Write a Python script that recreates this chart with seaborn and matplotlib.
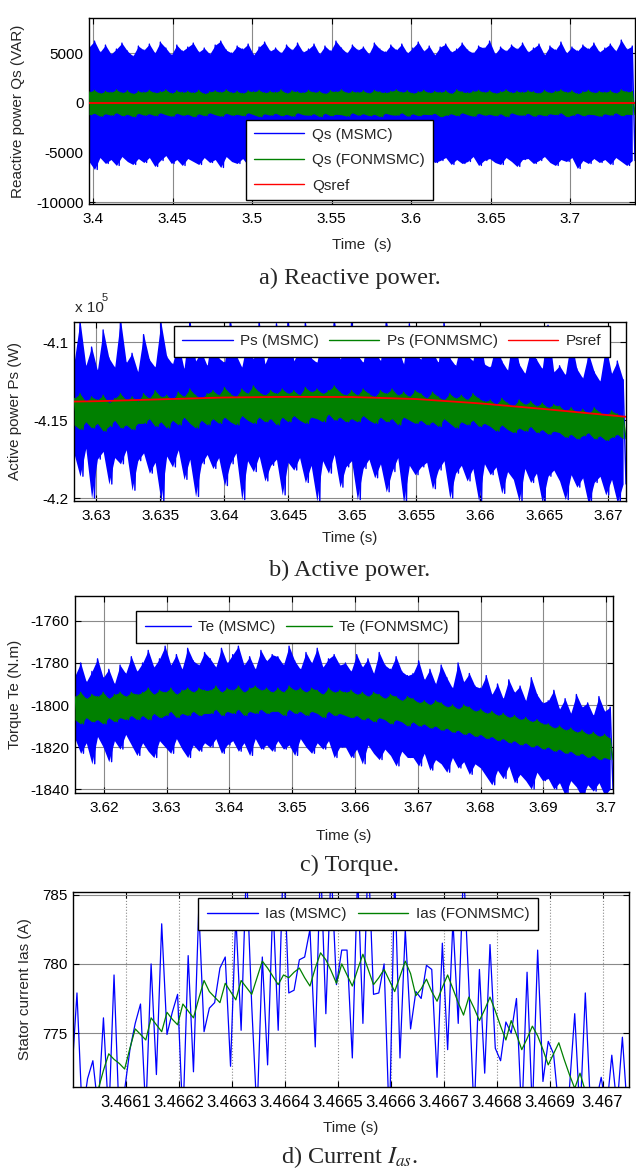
import numpy as np
import matplotlib
matplotlib.use("Agg")
import matplotlib.pyplot as plt
from matplotlib.ticker import FuncFormatter
import seaborn as sns

# ---------------- data ----------------
# a) Reactive power: peak / trough values of the chattering signals (VAR)
a_t_range = [3.3975, 3.7406]
qs_msmc_hi = [5600, 6200, 5100, 5800, 4900, 5400, 6000, 5200, 4700, 5700,
              5300, 5900, 5000, 6100, 5500, 4800, 5800, 5200, 5600, 6000,
              5100, 5500, 4900, 5800, 6200, 5300, 5000, 5700, 5400, 5900,
              4800, 5600, 6100, 5200, 5500, 5000, 5800, 5300, 6000, 5100,
              5400, 5900, 4900, 5700, 5200, 6200, 5500, 5000, 5800, 5300,
              5600, 4900, 6000, 5400, 5100, 5800, 5300, 5900, 5000, 5500,
              6100, 5200, 5700, 4800, 5600, 5900, 5100, 5400, 6000, 5300,
              5000, 5700, 5500, 6200, 4900, 5600, 5200, 5800, 5400, 6000,
              5100, 5500, 5900, 4800, 5700, 5300, 6100, 5000, 5600, 5200,
              5800, 5400, 6000, 5100, 5500, 5900, 5200, 6300, 5400, 5700]
qs_msmc_lo = [-5900, -6700, -5500, -6100, -5700, -6300, -5400, -5900, -6200, -5600,
              -6000, -5500, -6400, -5800, -5300, -6100, -5700, -6300, -5600, -5900,
              -6200, -5500, -6000, -5700, -6500, -5400, -5900, -6100, -5600, -6300,
              -5800, -5500, -6200, -5900, -5400, -6000, -6400, -5700, -5500, -6100,
              -5800, -6300, -5600, -5900, -5400, -6200, -5700, -6000, -5500, -6400,
              -5900, -5600, -6100, -5800, -6300, -5500, -6000, -5700, -6200, -5400,
              -5900, -6500, -5600, -6000, -5800, -5500, -6200, -5700, -6100, -5900,
              -5400, -6300, -5800, -5600, -6000, -6200, -5500, -5900, -6400, -5700,
              -5600, -6100, -5800, -5400, -6000, -6300, -5700, -5900, -5500, -6600,
              -5800, -6100, -5600, -6000, -5700, -6200, -5500, -5900, -6300, -5800]
qs_fon_hi = [1100, 1250, 950, 1150, 1050, 1300, 1000, 1200, 900, 1150,
             1050, 1250, 1000, 1100, 1300, 950, 1200, 1050, 1150, 1000,
             1250, 900, 1100, 1200, 1050, 1300, 1000, 1150, 950, 1200,
             1100, 1250, 1000, 1150, 1050, 1300, 950, 1200, 1100, 1000,
             1250, 1050, 1150, 900, 1200, 1100, 1300, 1000, 1150, 1050,
             1200, 950, 1250, 1100, 1000, 1150, 1300, 1050, 1200, 950,
             1100, 1250, 1000, 1150, 1050, 1200, 900, 1300, 1100, 1000,
             1150, 1250, 1050, 1200, 950, 1100, 1300, 1000, 1150, 1050,
             1200, 1100, 950, 1250, 1000, 1150, 1300, 1050, 1200, 900,
             1100, 1250, 1000, 1150, 1050, 1200, 950, 1300, 1100, 1150]
qs_fon_lo = [-1200, -1050, -1350, -1100, -1250, -1000, -1300, -1150, -1400, -1050,
             -1250, -1100, -1300, -1000, -1200, -1350, -1050, -1250, -1150, -1400,
             -1100, -1300, -1000, -1200, -1350, -1050, -1250, -1150, -1300, -1000,
             -1200, -1400, -1100, -1250, -1050, -1300, -1150, -1350, -1000, -1200,
             -1250, -1100, -1400, -1050, -1300, -1150, -1200, -1350, -1000, -1250,
             -1100, -1300, -1150, -1400, -1050, -1200, -1250, -1000, -1350, -1100,
             -1300, -1150, -1200, -1050, -1400, -1250, -1100, -1300, -1000, -1200,
             -1350, -1050, -1250, -1150, -1300, -1100, -1400, -1000, -1200, -1250,
             -1050, -1350, -1150, -1300, -1100, -1200, -1000, -1400, -1250, -1050,
             -1300, -1150, -1200, -1350, -1100, -1250, -1000, -1300, -1150, -1200]
qsref_t = [3.3975, 3.7406]
qsref = [0, 0]

# b) Active power (x 1e5 W)
b_t_range = [3.6283, 3.6714]
ps_msmc_hi = [-4.112, -4.086, -4.115, -4.103, -4.118, -4.092, -4.110, -4.116, -4.085, -4.113, -4.107, -4.119,
              -4.095, -4.111, -4.116, -4.087, -4.109, -4.114, -4.100, -4.117, -4.085, -4.112, -4.106, -4.115,
              -4.090, -4.110, -4.113, -4.085, -4.108, -4.116, -4.097, -4.111, -4.086, -4.114, -4.105, -4.088,
              -4.109, -4.085, -4.112, -4.104, -4.087, -4.110, -4.113, -4.094, -4.106, -4.085, -4.111, -4.102,
              -4.086, -4.108, -4.113, -4.090, -4.105, -4.112, -4.085, -4.109, -4.103, -4.114, -4.088, -4.107,
              -4.111, -4.096, -4.106, -4.113, -4.087, -4.110, -4.115, -4.099, -4.108, -4.112, -4.090, -4.114,
              -4.116, -4.101, -4.112, -4.118, -4.093, -4.114, -4.120, -4.105, -4.111, -4.117, -4.089, -4.119,
              -4.115, -4.121, -4.098, -4.117, -4.123, -4.107, -4.119, -4.125, -4.102, -4.120, -4.112, -4.124]
ps_msmc_lo = [-4.172, -4.186, -4.168, -4.200, -4.175, -4.170, -4.191, -4.174, -4.178, -4.169, -4.195, -4.176,
              -4.171, -4.184, -4.177, -4.202, -4.173, -4.180, -4.169, -4.188, -4.175, -4.199, -4.178, -4.172,
              -4.181, -4.174, -4.192, -4.178, -4.171, -4.201, -4.176, -4.183, -4.173, -4.189, -4.179, -4.175,
              -4.198, -4.177, -4.182, -4.174, -4.190, -4.179, -4.202, -4.176, -4.184, -4.172, -4.193, -4.180,
              -4.176, -4.201, -4.181, -4.175, -4.187, -4.178, -4.196, -4.183, -4.174, -4.203, -4.179, -4.185,
              -4.180, -4.177, -4.194, -4.182, -4.176, -4.200, -4.184, -4.179, -4.189, -4.181, -4.202, -4.178,
              -4.185, -4.180, -4.197, -4.183, -4.188, -4.202, -4.181, -4.190, -4.184, -4.203, -4.186, -4.182,
              -4.189, -4.201, -4.185, -4.193, -4.187, -4.204, -4.190, -4.186, -4.198, -4.188, -4.203, -4.191]
ps_fon_hi = [-4.136, -4.133, -4.138, -4.135, -4.137, -4.134, -4.139, -4.136, -4.133, -4.137, -4.135, -4.138,
             -4.133, -4.136, -4.131, -4.135, -4.134, -4.137, -4.132, -4.135, -4.130, -4.134, -4.136, -4.133,
             -4.131, -4.134, -4.129, -4.133, -4.135, -4.130, -4.133, -4.128, -4.132, -4.134, -4.131, -4.133,
             -4.130, -4.133, -4.131, -4.134, -4.129, -4.132, -4.130, -4.133, -4.131, -4.128, -4.132, -4.134,
             -4.131, -4.134, -4.130, -4.133, -4.135, -4.131, -4.133, -4.130, -4.134, -4.132, -4.135, -4.131,
             -4.133, -4.136, -4.132, -4.135, -4.137, -4.133, -4.136, -4.134, -4.137, -4.133, -4.136, -4.138,
             -4.137, -4.140, -4.136, -4.139, -4.141, -4.137, -4.140, -4.138, -4.141, -4.139, -4.142, -4.140,
             -4.141, -4.144, -4.142, -4.145, -4.143, -4.146, -4.142, -4.145, -4.147, -4.144, -4.146, -4.148]
ps_fon_lo = [-4.153, -4.156, -4.151, -4.155, -4.152, -4.157, -4.154, -4.150, -4.155, -4.153, -4.156, -4.152,
             -4.152, -4.149, -4.154, -4.151, -4.155, -4.150, -4.153, -4.148, -4.152, -4.155, -4.150, -4.153,
             -4.149, -4.152, -4.148, -4.151, -4.153, -4.147, -4.150, -4.152, -4.148, -4.151, -4.149, -4.153,
             -4.148, -4.151, -4.147, -4.150, -4.152, -4.148, -4.149, -4.151, -4.146, -4.150, -4.148, -4.151,
             -4.149, -4.151, -4.147, -4.150, -4.152, -4.148, -4.151, -4.149, -4.153, -4.148, -4.150, -4.152,
             -4.150, -4.153, -4.151, -4.154, -4.149, -4.152, -4.155, -4.151, -4.153, -4.150, -4.154, -4.152,
             -4.154, -4.157, -4.153, -4.156, -4.158, -4.155, -4.157, -4.154, -4.158, -4.156, -4.159, -4.157,
             -4.158, -4.161, -4.159, -4.162, -4.160, -4.158, -4.162, -4.160, -4.163, -4.161, -4.159, -4.162]
psref_t = [3.6283, 3.630, 3.635, 3.640, 3.645, 3.650, 3.655, 3.660, 3.665, 3.6714]
psref = [-4.1380, -4.1378, -4.1366, -4.1354, -4.1350, -4.1351, -4.1364, -4.1392, -4.1428, -4.1478]

# c) Torque (N.m)
c_t_range = [3.6154, 3.7011]
te_msmc_hi = [-1786, -1780, -1789, -1784, -1778, -1787, -1783, -1790, -1781, -1785, -1777, -1784,
              -1780, -1774, -1782, -1778, -1772, -1781, -1776, -1783, -1773, -1779, -1781, -1775,
              -1778, -1782, -1773, -1780, -1776, -1772, -1781, -1777, -1783, -1774, -1779, -1776,
              -1777, -1781, -1772, -1779, -1783, -1775, -1780, -1773, -1782, -1778, -1776, -1781,
              -1780, -1784, -1776, -1782, -1778, -1785, -1775, -1781, -1783, -1777, -1784, -1786,
              -1785, -1779, -1788, -1783, -1790, -1781, -1787, -1792, -1780, -1789, -1785, -1791,
              -1792, -1786, -1795, -1790, -1797, -1788, -1794, -1791, -1798, -1787, -1795, -1799,
              -1798, -1793, -1802, -1797, -1804, -1795, -1801, -1799, -1805, -1796, -1803, -1801]
te_msmc_lo = [-1816, -1823, -1818, -1828, -1815, -1820, -1827, -1817, -1821, -1814, -1819, -1824,
              -1818, -1822, -1825, -1817, -1820, -1823, -1816, -1821, -1825, -1819, -1822, -1818,
              -1820, -1816, -1823, -1819, -1817, -1822, -1818, -1824, -1816, -1821, -1819, -1822,
              -1817, -1821, -1819, -1824, -1816, -1820, -1823, -1818, -1821, -1817, -1825, -1820,
              -1820, -1825, -1821, -1828, -1819, -1823, -1826, -1821, -1824, -1829, -1822, -1825,
              -1825, -1829, -1823, -1831, -1826, -1828, -1832, -1825, -1830, -1827, -1833, -1828,
              -1830, -1834, -1838, -1831, -1835, -1829, -1837, -1833, -1836, -1840, -1832, -1836,
              -1835, -1840, -1837, -1843, -1836, -1839, -1844, -1838, -1841, -1837, -1843, -1840]
te_fon_hi = [-1796, -1794, -1797, -1795, -1796, -1794, -1797, -1795, -1794, -1796, -1794, -1795,
             -1794, -1792, -1795, -1793, -1794, -1792, -1795, -1793, -1792, -1794, -1792, -1793,
             -1793, -1791, -1794, -1792, -1793, -1791, -1794, -1792, -1791, -1793, -1792, -1794,
             -1792, -1794, -1791, -1793, -1792, -1794, -1792, -1793, -1795, -1792, -1794, -1793,
             -1794, -1793, -1795, -1794, -1796, -1794, -1795, -1797, -1795, -1796, -1798, -1796,
             -1797, -1799, -1798, -1800, -1798, -1799, -1801, -1800, -1802, -1800, -1801, -1803,
             -1802, -1804, -1803, -1805, -1804, -1806, -1805, -1807, -1806, -1808, -1807, -1809,
             -1809, -1811, -1810, -1812, -1811, -1813, -1812, -1814, -1813, -1815, -1814, -1816]
te_fon_lo = [-1807, -1809, -1806, -1808, -1807, -1809, -1806, -1808, -1806, -1807, -1805, -1807,
             -1805, -1807, -1804, -1806, -1805, -1803, -1806, -1804, -1805, -1803, -1805, -1804,
             -1804, -1802, -1805, -1803, -1804, -1802, -1805, -1803, -1804, -1802, -1804, -1803,
             -1803, -1805, -1802, -1804, -1803, -1805, -1803, -1804, -1806, -1803, -1805, -1804,
             -1805, -1806, -1805, -1807, -1806, -1808, -1806, -1807, -1809, -1807, -1808, -1810,
             -1808, -1810, -1809, -1811, -1810, -1812, -1811, -1813, -1812, -1814, -1813, -1815,
             -1814, -1816, -1815, -1817, -1816, -1818, -1817, -1819, -1818, -1820, -1819, -1821,
             -1820, -1822, -1821, -1823, -1822, -1824, -1823, -1825, -1824, -1826, -1825, -1826]

# d) Stator current (A), sampled every 10 us
d_t0, d_dt = 3.4659975, 1e-5
ias_msmc = [771.8, 777.9, 769.0, 771.7, 773.0, 769.5, 776.1, 768.8, 779.2, 768.5,
            770.9, 773.8, 775.7, 777.1, 769.2, 780.0, 772.0, 782.9, 774.9, 776.5,
            777.8, 768.7, 780.6, 772.2, 784.0, 775.1, 776.8, 777.2, 779.7, 780.5,
            772.6, 783.5, 775.2, 787.0, 777.0, 769.0, 780.5, 772.7, 784.5, 775.2,
            788.0, 777.9, 778.1, 780.3, 780.5, 782.5, 774.0, 787.5, 776.4, 787.0,
            778.5, 781.0, 781.0, 773.2, 786.5, 775.7, 788.0, 777.8, 777.9, 780.0,
            768.2, 786.5, 773.2, 782.5, 775.3, 778.0, 777.5, 779.9, 779.6, 771.8,
            781.5, 773.8, 783.1, 775.7, 787.0, 778.5, 769.0, 779.6, 772.1, 781.4,
            773.9, 773.0, 775.8, 775.0, 777.5, 768.8, 779.4, 769.3, 781.0, 771.5,
            774.4, 773.5, 769.5, 770.0, 771.0, 776.4, 768.9, 777.9, 769.4, 770.0,
            771.8, 769.3, 773.4, 769.6, 774.7, 769.0, 772.0, 769.5]
ias_fon = [768.6, 769.0, 769.4, 769.8, 770.4, 770.9, 772.3, 773.5, 773.1, 772.8,
           772.4, 773.9, 775.3, 774.9, 774.5, 776.1, 775.6, 775.1, 776.5, 776.0,
           775.6, 777.1, 776.6, 776.1, 777.5, 778.8, 778.0, 777.6, 777.2, 778.6,
           778.0, 777.4, 778.8, 778.3, 777.8, 779.0, 780.2, 779.7, 779.1, 778.5,
           779.2, 779.0, 779.4, 779.7, 779.0, 778.4, 779.7, 780.8, 780.3, 779.5,
           778.6, 780.0, 779.2, 778.4, 779.6, 780.7, 779.6, 778.5, 779.0, 779.6,
           778.8, 778.0, 779.1, 780.2, 779.3, 777.7, 778.2, 778.9, 778.0, 777.3,
           778.3, 779.2, 778.2, 777.2, 776.3, 777.6, 776.8, 775.9, 776.7, 777.6,
           776.6, 775.5, 774.5, 775.9, 774.9, 773.8, 774.6, 775.5, 774.8, 773.8,
           772.7, 773.5, 774.3, 773.1, 772.0, 771.0, 772.1, 770.8, 770.3, 769.9,
           769.5, 769.2, 769.0, 768.8, 768.6, 768.5, 768.4, 768.3]

# tick positions
a_xticks = [3.4, 3.45, 3.5, 3.55, 3.6, 3.65, 3.7]
a_yticks = [-10000, -5000, 0, 5000]
b_xticks = [3.63, 3.635, 3.64, 3.645, 3.65, 3.655, 3.66, 3.665, 3.67]
b_yticks = [-4.2, -4.15, -4.1]
c_xticks = [3.62, 3.63, 3.64, 3.65, 3.66, 3.67, 3.68, 3.69, 3.7]
c_yticks = [-1840, -1820, -1800, -1780, -1760]
d_xticks = [3.4661, 3.4662, 3.4663, 3.4664, 3.4665, 3.4666, 3.4667, 3.4668, 3.4669, 3.467]
d_yticks = [775, 780, 785]

# ---------------- style ----------------
sns.set_style("ticks")
plt.rcParams['font.family'] = ['Liberation Sans', 'DejaVu Sans']
plt.rcParams['axes.unicode_minus'] = False
plt.rcParams['mathtext.fontset'] = 'stix'

BLUE, GREEN, RED = '#0000ff', '#008000', '#ff0000'
FS = 11
W, H = 636, 1171
fig = plt.figure(figsize=(W / 100, H / 100), dpi=100)


def add_ax(l, t, r, b):
    return fig.add_axes([l / W, 1 - b / H, (r - l) / W, (b - t) / H])


def band(hi, lo):
    v = np.empty(len(hi) + len(lo))
    v[0::2] = hi
    v[1::2] = lo
    return v


fmt = FuncFormatter(lambda v, p: '%g' % v)


def style(ax, xlim, ylim, xt, yt, vgrid_ls='-', xfs=FS):
    ax.set_xlim(*xlim)
    ax.set_ylim(*ylim)
    ax.set_xticks(xt)
    ax.set_yticks(yt)
    ax.xaxis.set_major_formatter(fmt)
    ax.yaxis.set_major_formatter(fmt)
    ax.tick_params(direction='in', length=4, width=0.8, top=True, right=True,
                   labelsize=FS, colors='black')
    ax.tick_params(axis='x', pad=6, labelsize=xfs)
    ax.tick_params(axis='y', pad=4)
    ax.xaxis.grid(True, color='#8a8a8a', lw=0.8, ls=vgrid_ls)
    ax.yaxis.grid(True, color='#8a8a8a', lw=0.8)
    ax.set_axisbelow(True)
    for s in ax.spines.values():
        s.set_color('black')
        s.set_linewidth(1.0)


def legend(ax, loc, bbox, ncol, bp, ls=0.5, hl=3.3):
    leg = ax.legend(loc=loc, bbox_to_anchor=bbox, ncol=ncol, mode='expand', fontsize=FS,
                    frameon=True, fancybox=False, edgecolor='black', framealpha=1,
                    borderpad=bp, labelspacing=ls, handlelength=hl, handletextpad=0.5,
                    columnspacing=0.6, borderaxespad=0)
    leg.set_zorder(10)
    leg.get_frame().set_linewidth(1.0)
    for h in leg.get_lines():
        h.set_linewidth(1.0)


def caption(y, s):
    fig.text(350 / W, 1 - y / H, s, ha='center', va='center',
             family=['Liberation Serif', 'DejaVu Serif'], fontsize=17.5)


def chatter(ax, t_range, hi, lo, color, label, z):
    """Dense switching signal: zig-zag through the read peaks/troughs, with the
    space between the successive peaks and troughs filled in the line colour."""
    t = np.linspace(t_range[0], t_range[1], 2 * len(hi))
    ax.fill_between(t[0::2], hi, lo, color=color, lw=0, zorder=z)
    sns.lineplot(x=t, y=band(hi, lo), ax=ax, color=color, lw=1.0,
                 estimator=None, sort=False, label=label, zorder=z + 0.1)


# ---------------- a) Reactive power ----------------
ax = add_ax(89, 18, 635, 204)
chatter(ax, a_t_range, qs_msmc_hi, qs_msmc_lo, BLUE, 'Qs (MSMC)', 2)
chatter(ax, a_t_range, qs_fon_hi, qs_fon_lo, GREEN, 'Qs (FONMSMC)', 3)
sns.lineplot(x=qsref_t, y=qsref, ax=ax, color=RED, lw=1.3,
             estimator=None, sort=False, label='Qsref', zorder=4)
style(ax, (3.3975, 3.7406), (-10170, 8520), a_xticks, a_yticks)
ax.set_xlabel('Time  (s)', fontsize=FS)
ax.set_ylabel('Reactive power Qs (VAR)', fontsize=FS)
ax.xaxis.set_label_coords(0.5, -0.183)
ax.yaxis.set_label_coords(-0.117, 0.5)
legend(ax, 'lower left', (0.288, 0.02, 0.342, 0.453), 1, 0.5, 0.75)
caption(278, 'a) Reactive power.')

# ---------------- b) Active power ----------------
ax = add_ax(74, 322, 626, 501)
chatter(ax, b_t_range, ps_msmc_hi, ps_msmc_lo, BLUE, 'Ps (MSMC)', 2)
chatter(ax, b_t_range, ps_fon_hi, ps_fon_lo, GREEN, 'Ps (FONMSMC)', 3)
sns.lineplot(x=psref_t, y=psref, ax=ax, color=RED, lw=1.3,
             estimator=None, sort=False, label='Psref', zorder=4)
style(ax, (3.62828, 3.6714), (-4.2019, -4.0869), b_xticks, b_yticks)
ax.set_xlabel('Time (s)', fontsize=FS)
ax.set_ylabel('Active power Ps (W)', fontsize=FS)
ax.xaxis.set_label_coords(0.5, -0.168)
ax.yaxis.set_label_coords(-0.094, 0.5)
legend(ax, 'upper left', (0.181, 0.799, 0.79, 0.179), 3, 0.55)
fig.text(75 / W, 1 - 308 / H, 'x 10', ha='left', va='center', fontsize=FS)
fig.text(102 / W, 1 - 298 / H, '5', ha='left', va='center', fontsize=8)
caption(570, 'b) Active power.')

# ---------------- c) Torque ----------------
ax = add_ax(75, 596, 613, 793)
chatter(ax, c_t_range, te_msmc_hi, te_msmc_lo, BLUE, 'Te (MSMC)', 2)
chatter(ax, c_t_range, te_fon_hi, te_fon_lo, GREEN, 'Te (FONMSMC)', 3)
style(ax, (3.6154, 3.7011), (-1841.9, -1748.1), c_xticks, c_yticks)
ax.set_xlabel('Time (s)', fontsize=FS)
ax.set_ylabel('Torque Te (N.m)', fontsize=FS)
ax.xaxis.set_label_coords(0.5, -0.183)
ax.yaxis.set_label_coords(-0.0985, 0.5)
legend(ax, 'upper left', (0.113, 0.751, 0.599, 0.173), 2, 0.6, hl=3.0)
caption(865, 'c) Torque.')

# ---------------- d) Current Ias ----------------
ax = add_ax(73, 892, 629, 1087)
td = d_t0 + d_dt * np.arange(len(ias_msmc))
sns.lineplot(x=td, y=ias_msmc, ax=ax, color=BLUE, lw=0.9,
             estimator=None, sort=False, label='Ias (MSMC)')
sns.lineplot(x=td, y=ias_fon, ax=ax, color=GREEN, lw=0.9,
             estimator=None, sort=False, label='Ias (FONMSMC)')
style(ax, (3.46600, 3.46705), (771.1, 785.2), d_xticks, d_yticks, vgrid_ls=':', xfs=12)
ax.set_xlabel('Time (s)', fontsize=FS)
ax.set_ylabel('Stator current Ias (A)', fontsize=FS)
ax.xaxis.set_label_coords(0.5, -0.174)
ax.yaxis.set_label_coords(-0.074, 0.5)
legend(ax, 'upper left', (0.225, 0.79, 0.612, 0.179), 2, 0.6)
caption(1157, r'd) Current $I_{as}$.')

fig.savefig('out.png', dpi=100)
